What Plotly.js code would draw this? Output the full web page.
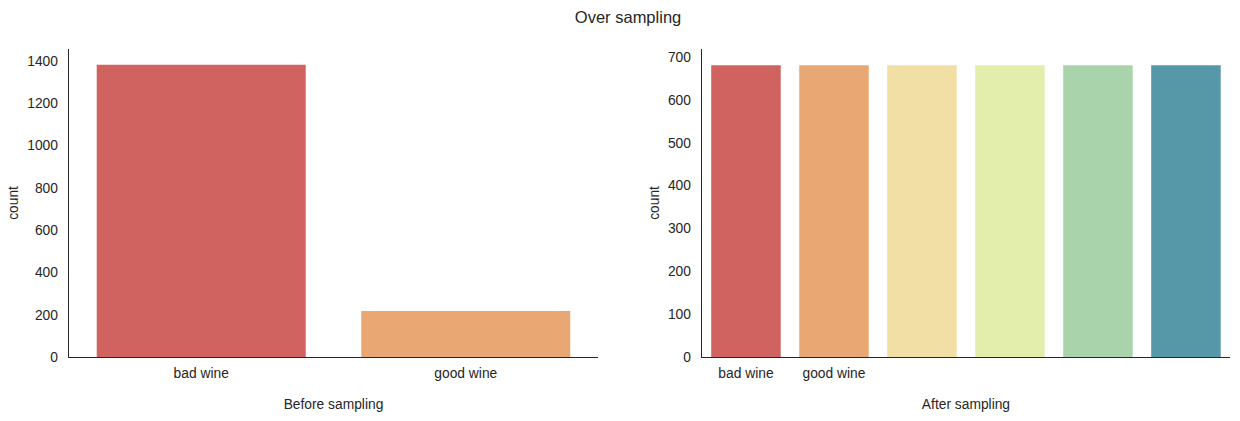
<!DOCTYPE html>
<html>
<head>
<meta charset="utf-8">
<script src="https://cdn.plot.ly/plotly-3.0.1.min.js"></script>
<style>
  body { margin: 0; background: #fff; }
  #chart { width: 1240px; height: 421px; }
</style>
</head>
<body>
<div id="chart"></div>
<script>
"use strict";

// before over sampling
const beforeLabels = ["bad wine", "good wine"];
const beforeCounts = [1382, 217];
const beforeColors = ["#d0635f", "#e9a873"];

// after over sampling (six bars, only the first two are labelled)
const afterPositions = [0, 1, 2, 3, 4, 5];
const afterCounts = [681, 681, 681, 681, 681, 681];
const afterTickLabels = ["bad wine", "good wine"];
const afterColors = ["#d0635f", "#e9a873", "#f2dfa6", "#e4eeac", "#a9d3aa", "#5697a8"];

const textColor = "#262626";
const fontFamily = "Liberation Sans, Arial, sans-serif";
const labelSize = 13.8;

const beforeTrace = {
    x: [0, 1],
    y: beforeCounts,
    type: "bar",
    width: 0.79,
    marker: { color: beforeColors, line: { width: 0 } },
    xaxis: "x",
    yaxis: "y",
    hoverinfo: "x+y"
};

const afterTrace = {
    x: afterPositions,
    y: afterCounts,
    type: "bar",
    width: 0.79,
    marker: { color: afterColors, line: { width: 0 } },
    xaxis: "x2",
    yaxis: "y2",
    hoverinfo: "y"
};

function xAxis(domain, range, tickvals, ticktext, title, anchor) {
    return {
        domain: domain,
        range: range,
        anchor: anchor,
        tickvals: tickvals,
        ticktext: ticktext,
        showgrid: false,
        zeroline: false,
        showline: true,
        linecolor: textColor,
        linewidth: 1.25,
        ticks: "",
        ticklabelstandoff: 3,
        tickfont: { size: labelSize, color: textColor, family: fontFamily },
        title: { text: title, standoff: 19, font: { size: labelSize, color: textColor, family: fontFamily } },
        fixedrange: true
    };
}

function yAxis(range, dtick, anchor) {
    return {
        domain: [0.152, 0.884],
        range: range,
        anchor: anchor,
        dtick: dtick,
        showgrid: false,
        zeroline: false,
        showline: true,
        linecolor: textColor,
        linewidth: 1.25,
        ticks: "",
        ticklabelstandoff: 7,
        tickfont: { size: labelSize, color: textColor, family: fontFamily },
        title: { text: "count", standoff: 5, font: { size: labelSize, color: textColor, family: fontFamily } },
        fixedrange: true
    };
}

const layout = {
    width: 1240,
    height: 421,
    margin: { l: 0, r: 0, t: 0, b: 0 },
    paper_bgcolor: "#ffffff",
    plot_bgcolor: "#ffffff",
    showlegend: false,
    bargap: 0.2,
    font: { family: fontFamily, color: textColor },
    title: {
        text: "Over sampling",
        x: 0.5065,
        xanchor: "center",
        y: 0.96,
        yanchor: "middle",
        font: { size: 16.5, color: textColor, family: fontFamily }
    },
    xaxis: xAxis([0.0556, 0.4823], [-0.5, 1.5], [0, 1], beforeLabels, "Before sampling", "y"),
    yaxis: yAxis([0, 1457], 200, "x"),
    xaxis2: xAxis([0.5661, 0.9919], [-0.5, 5.5], [0, 1], afterTickLabels, "After sampling", "y2"),
    yaxis2: yAxis([0, 719], 100, "x2")
};

Plotly.newPlot("chart", [beforeTrace, afterTrace], layout, { displayModeBar: false, staticPlot: true });
</script>
</body>
</html>
